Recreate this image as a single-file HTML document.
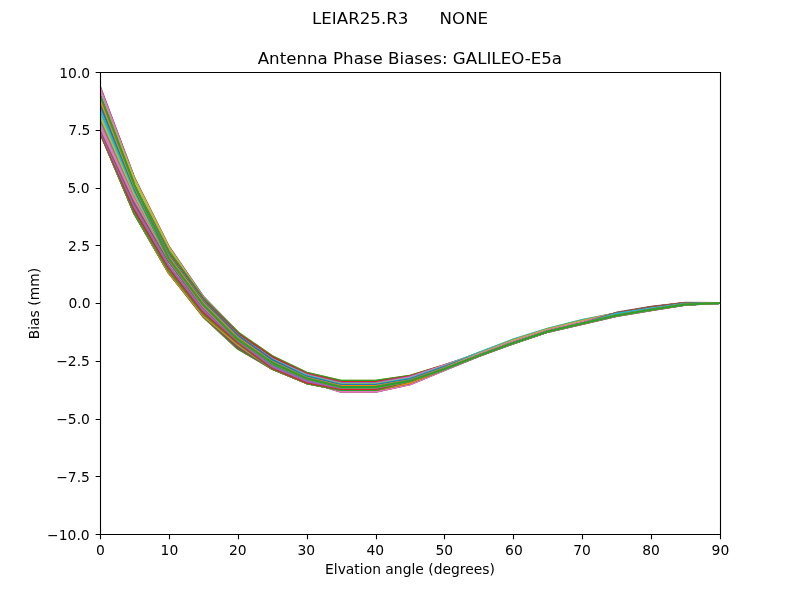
<!DOCTYPE html>
<html lang="en"><head><meta charset="utf-8"><title>LEIAR25.R3 NONE - Antenna Phase Biases: GALILEO-E5a</title>
<style>html,body{margin:0;padding:0;background:#fff;overflow:hidden}svg{display:block;will-change:transform}text{font-family:"DejaVu Sans","Liberation Sans",sans-serif;fill:#000}.t{font-size:13.889px}.h{font-size:16.667px}.ln{fill:none;stroke-width:2.0833;stroke-linejoin:round;stroke-linecap:square}.hd{stroke-width:1}</style></head><body>
<svg width="800" height="600" viewBox="0 0 800 600">
<rect width="800" height="600" fill="#fff"/>
<defs><clipPath id="c"><rect x="100.0" y="72.0" width="620.0" height="462.0"/></clipPath></defs>
<g clip-path="url(#c)">
<polyline class="ln hd" stroke="#1f77b4" points="97.00,78.59 100.00,86.55 134.44,178.03 168.89,246.64 203.33,296.76 237.78,332.34 272.22,361.21 306.67,381.11 341.11,391.70 375.56,391.70 410.00,384.31 444.44,369.99 478.89,356.13 513.33,343.43 547.78,331.88 582.22,324.02 616.67,315.94 651.11,310.16 685.56,304.62 720.00,303.00 723.00,303.00"/>
<polyline class="ln hd" stroke="#ff7f0e" points="97.00,78.59 100.00,86.55 134.44,178.03 168.89,246.64 203.33,296.76 237.78,332.34 272.22,361.21 306.67,381.11 341.11,391.70 375.56,391.70 410.00,384.31 444.44,369.99 478.89,356.13 513.33,343.43 547.78,331.88 582.22,324.02 616.67,315.94 651.11,310.16 685.56,304.62 720.00,303.00 723.00,303.00"/>
<polyline class="ln hd" stroke="#2ca02c" points="97.00,78.59 100.00,86.55 134.44,178.03 168.89,246.64 203.33,296.76 237.78,332.34 272.22,361.21 306.67,381.11 341.11,391.70 375.56,391.70 410.00,384.31 444.44,369.99 478.89,356.13 513.33,343.43 547.78,331.88 582.22,324.02 616.67,315.94 651.11,310.16 685.56,304.62 720.00,303.00 723.00,303.00"/>
<polyline class="ln hd" stroke="#d62728" points="97.00,78.59 100.00,86.55 134.44,178.03 168.89,246.64 203.33,296.76 237.78,332.34 272.22,361.21 306.67,381.11 341.11,391.70 375.56,391.70 410.00,384.31 444.44,369.99 478.89,356.13 513.33,343.43 547.78,331.88 582.22,324.02 616.67,315.94 651.11,310.16 685.56,304.62 720.00,303.00 723.00,303.00"/>
<polyline class="ln" stroke="#9467bd" points="97.00,78.59 100.00,86.55 134.44,178.03 168.89,246.64 203.33,296.76 237.78,332.34 272.22,361.21 306.67,381.11 341.11,391.70 375.56,391.70 410.00,384.31 444.44,369.99 478.89,356.13 513.33,343.43 547.78,331.88 582.22,324.02 616.67,315.94 651.11,310.16 685.56,304.62 720.00,303.00 723.00,303.00"/>
<polyline class="ln" stroke="#8c564b" points="97.00,79.34 100.00,87.30 134.44,178.68 168.89,247.14 203.33,297.16 237.78,332.34 272.22,361.21 306.67,381.11 341.11,391.70 375.56,391.70 410.00,384.31 444.44,369.99 478.89,356.13 513.33,343.43 547.78,331.88 582.22,324.02 616.67,315.94 651.11,310.16 685.56,304.62 720.00,303.00 723.00,303.00"/>
<polyline class="ln" stroke="#e377c2" points="97.00,80.10 100.00,88.05 134.44,179.33 168.89,247.64 203.33,297.56 237.78,332.34 272.22,361.21 306.67,381.11 341.11,391.70 375.56,391.70 410.00,384.31 444.44,369.99 478.89,356.13 513.33,343.43 547.78,331.88 582.22,324.02 616.67,315.94 651.11,310.16 685.56,304.62 720.00,303.00 723.00,303.00"/>
<polyline class="ln hd" stroke="#7f7f7f" points="97.00,88.36 100.00,95.65 134.44,179.45 168.89,248.08 203.33,298.25 237.78,332.34 272.22,356.13 306.67,372.76 341.11,380.85 375.56,380.85 410.00,375.76 444.44,365.14 478.89,354.05 513.33,340.48 547.78,329.45 582.22,321.08 616.67,313.16 651.11,307.39 685.56,303.14 720.00,303.00 723.00,303.00"/>
<polyline class="ln" stroke="#bcbd22" points="97.00,88.36 100.00,95.65 134.44,179.45 168.89,248.08 203.33,298.25 237.78,332.34 272.22,356.13 306.67,372.76 341.11,380.85 375.56,380.85 410.00,375.76 444.44,365.14 478.89,354.05 513.33,340.48 547.78,329.45 582.22,321.08 616.67,313.16 651.11,307.39 685.56,303.14 720.00,303.00 723.00,303.00"/>
<polyline class="ln hd" stroke="#17becf" points="97.00,87.86 100.00,95.65 134.44,185.14 168.89,251.38 203.33,298.25 237.78,332.34 272.22,356.13 306.67,372.76 341.11,380.85 375.56,380.85 410.00,375.76 444.44,365.14 478.89,354.05 513.33,340.48 547.78,329.45 582.22,321.08 616.67,313.16 651.11,307.39 685.56,303.14 720.00,303.00 723.00,303.00"/>
<polyline class="ln hd" stroke="#1f77b4" points="97.00,87.86 100.00,95.65 134.44,185.14 168.89,251.38 203.33,298.25 237.78,332.34 272.22,356.13 306.67,372.76 341.11,380.85 375.56,380.85 410.00,375.76 444.44,365.14 478.89,354.05 513.33,340.48 547.78,329.45 582.22,321.08 616.67,313.16 651.11,307.39 685.56,303.14 720.00,303.00 723.00,303.00"/>
<polyline class="ln hd" stroke="#ff7f0e" points="97.00,87.86 100.00,95.65 134.44,185.14 168.89,251.38 203.33,298.25 237.78,332.34 272.22,356.13 306.67,372.76 341.11,380.85 375.56,380.85 410.00,375.76 444.44,365.14 478.89,354.05 513.33,340.48 547.78,329.45 582.22,321.08 616.67,313.16 651.11,307.39 685.56,303.14 720.00,303.00 723.00,303.00"/>
<polyline class="ln" stroke="#2ca02c" points="97.00,87.86 100.00,95.65 134.44,185.14 168.89,251.38 203.33,298.25 237.78,332.34 272.22,356.13 306.67,372.76 341.11,380.85 375.56,380.85 410.00,375.76 444.44,365.14 478.89,354.05 513.33,340.48 547.78,329.45 582.22,321.08 616.67,313.16 651.11,307.39 685.56,303.14 720.00,303.00 723.00,303.00"/>
<polyline class="ln" stroke="#d62728" points="97.00,88.79 100.00,96.56 134.44,185.86 168.89,254.01 203.33,300.14 237.78,333.54 272.22,357.07 306.67,373.67 341.11,382.13 375.56,382.13 410.00,376.19 444.44,365.14 478.89,354.05 513.33,340.48 547.78,329.45 582.22,321.08 616.67,313.16 651.11,307.39 685.56,303.14 720.00,303.00 723.00,303.00"/>
<polyline class="ln" stroke="#9467bd" points="97.00,89.72 100.00,97.47 134.44,186.57 168.89,255.59 203.33,301.73 237.78,335.60 272.22,358.93 306.67,374.74 341.11,383.13 375.56,383.13 410.00,377.05 444.44,365.38 478.89,353.18 513.33,341.42 547.78,330.23 582.22,322.02 616.67,313.16 651.11,307.39 685.56,303.14 720.00,303.00 723.00,303.00"/>
<polyline class="ln hd" stroke="#8c564b" points="97.00,89.72 100.00,97.47 134.44,186.57 168.89,255.59 203.33,301.73 237.78,335.60 272.22,359.43 306.67,375.15 341.11,384.13 375.56,384.13 410.00,377.47 444.44,365.38 478.89,353.18 513.33,341.42 547.78,330.23 582.22,322.02 616.67,313.16 651.11,307.39 685.56,303.14 720.00,303.00 723.00,303.00"/>
<polyline class="ln" stroke="#e377c2" points="97.00,89.72 100.00,97.47 134.44,186.57 168.89,255.59 203.33,301.73 237.78,335.60 272.22,359.43 306.67,375.15 341.11,384.13 375.56,384.13 410.00,377.47 444.44,365.38 478.89,353.18 513.33,341.42 547.78,330.23 582.22,322.02 616.67,313.16 651.11,307.39 685.56,303.14 720.00,303.00 723.00,303.00"/>
<polyline class="ln hd" stroke="#7f7f7f" points="97.00,92.65 100.00,100.21 134.44,186.92 168.89,255.59 203.33,301.73 237.78,335.60 272.22,359.43 306.67,375.71 341.11,384.13 375.56,384.13 410.00,378.50 444.44,366.59 478.89,352.67 513.33,339.50 547.78,328.64 582.22,320.09 616.67,313.16 651.11,307.39 685.56,303.14 720.00,303.00 723.00,303.00"/>
<polyline class="ln" stroke="#bcbd22" points="97.00,92.65 100.00,100.21 134.44,186.92 168.89,255.59 203.33,301.73 237.78,335.60 272.22,359.43 306.67,375.71 341.11,384.13 375.56,384.13 410.00,378.50 444.44,366.59 478.89,352.67 513.33,339.50 547.78,328.64 582.22,320.09 616.67,313.16 651.11,307.39 685.56,303.14 720.00,303.00 723.00,303.00"/>
<polyline class="ln" stroke="#17becf" points="97.00,92.65 100.00,100.21 134.44,186.92 168.89,255.59 203.33,301.73 237.78,335.60 272.22,359.43 306.67,375.71 341.11,384.54 375.56,384.54 410.00,378.50 444.44,366.59 478.89,352.67 513.33,339.50 547.78,328.64 582.22,320.09 616.67,313.16 651.11,307.39 685.56,303.14 720.00,303.00 723.00,303.00"/>
<polyline class="ln" stroke="#1f77b4" points="97.00,92.65 100.00,100.21 134.44,186.92 168.89,255.59 203.33,301.73 237.78,335.60 272.22,359.94 306.67,376.61 341.11,385.11 375.56,385.11 410.00,379.18 444.44,367.08 478.89,354.05 513.33,340.48 547.78,329.45 582.22,321.08 616.67,313.16 651.11,307.39 685.56,303.14 720.00,303.00 723.00,303.00"/>
<polyline class="ln" stroke="#ff7f0e" points="97.00,95.03 100.00,102.48 134.44,187.99 168.89,257.17 203.33,303.12 237.78,337.72 272.22,361.78 306.67,377.75 341.11,386.11 375.56,386.11 410.00,380.21 444.44,368.05 478.89,354.05 513.33,340.48 547.78,329.45 582.22,321.08 616.67,313.16 651.11,307.39 685.56,303.14 720.00,303.00 723.00,303.00"/>
<polyline class="ln hd" stroke="#2ca02c" points="97.00,124.96 100.00,132.06 134.44,213.60 168.89,272.97 203.33,316.63 237.78,348.65 272.22,368.83 306.67,383.16 341.11,390.01 375.56,390.01 410.00,382.88 444.44,368.95 478.89,354.05 513.33,340.48 547.78,329.45 582.22,321.08 616.67,313.16 651.11,307.39 685.56,303.14 720.00,303.00 723.00,303.00"/>
<polyline class="ln hd" stroke="#d62728" points="97.00,124.96 100.00,132.06 134.44,213.60 168.89,272.97 203.33,316.63 237.78,348.65 272.22,368.83 306.67,383.16 341.11,390.01 375.56,390.01 410.00,382.88 444.44,368.95 478.89,354.05 513.33,340.48 547.78,329.45 582.22,321.08 616.67,313.16 651.11,307.39 685.56,303.14 720.00,303.00 723.00,303.00"/>
<polyline class="ln hd" stroke="#9467bd" points="97.00,124.96 100.00,132.06 134.44,213.60 168.89,272.97 203.33,316.63 237.78,348.65 272.22,368.83 306.67,383.16 341.11,390.01 375.56,390.01 410.00,382.88 444.44,368.95 478.89,354.05 513.33,340.48 547.78,329.45 582.22,321.08 616.67,313.16 651.11,307.39 685.56,303.14 720.00,303.00 723.00,303.00"/>
<polyline class="ln hd" stroke="#8c564b" points="97.00,124.96 100.00,132.06 134.44,213.60 168.89,272.97 203.33,316.63 237.78,348.65 272.22,368.83 306.67,383.16 341.11,390.01 375.56,390.01 410.00,382.88 444.44,368.95 478.89,354.05 513.33,340.48 547.78,329.45 582.22,321.08 616.67,313.16 651.11,307.39 685.56,303.14 720.00,303.00 723.00,303.00"/>
<polyline class="ln hd" stroke="#e377c2" points="97.00,124.96 100.00,132.06 134.44,213.60 168.89,272.97 203.33,316.63 237.78,348.65 272.22,368.83 306.67,383.16 341.11,390.01 375.56,390.01 410.00,382.88 444.44,368.95 478.89,354.05 513.33,340.48 547.78,329.45 582.22,321.08 616.67,313.16 651.11,307.39 685.56,303.14 720.00,303.00 723.00,303.00"/>
<polyline class="ln hd" stroke="#7f7f7f" points="97.00,124.96 100.00,132.06 134.44,213.60 168.89,272.97 203.33,316.63 237.78,348.65 272.22,368.83 306.67,383.16 341.11,390.01 375.56,390.01 410.00,382.88 444.44,368.95 478.89,354.05 513.33,340.48 547.78,329.45 582.22,321.08 616.67,313.16 651.11,307.39 685.56,303.14 720.00,303.00 723.00,303.00"/>
<polyline class="ln" stroke="#bcbd22" points="97.00,124.96 100.00,132.06 134.44,213.60 168.89,272.97 203.33,316.63 237.78,348.65 272.22,368.83 306.67,383.16 341.11,390.01 375.56,390.01 410.00,382.88 444.44,368.95 478.89,354.05 513.33,340.48 547.78,329.45 582.22,321.08 616.67,313.16 651.11,307.39 685.56,303.14 720.00,303.00 723.00,303.00"/>
<polyline class="ln hd" stroke="#17becf" points="97.00,124.96 100.00,132.06 134.44,213.60 168.89,272.97 203.33,316.63 237.78,348.65 272.22,368.83 306.67,383.16 341.11,390.01 375.56,390.01 410.00,382.88 444.44,368.95 478.89,354.57 513.33,341.42 547.78,330.23 582.22,322.02 616.67,313.16 651.11,307.39 685.56,303.14 720.00,303.00 723.00,303.00"/>
<polyline class="ln hd" stroke="#1f77b4" points="97.00,124.96 100.00,132.06 134.44,213.60 168.89,272.97 203.33,316.63 237.78,348.65 272.22,368.83 306.67,383.16 341.11,390.01 375.56,390.01 410.00,382.88 444.44,368.95 478.89,354.57 513.33,341.42 547.78,330.23 582.22,322.02 616.67,313.16 651.11,307.39 685.56,303.14 720.00,303.00 723.00,303.00"/>
<polyline class="ln hd" stroke="#ff7f0e" points="97.00,124.96 100.00,132.06 134.44,213.60 168.89,272.97 203.33,316.63 237.78,348.65 272.22,368.83 306.67,383.16 341.11,390.01 375.56,390.01 410.00,382.88 444.44,368.95 478.89,354.57 513.33,341.42 547.78,330.23 582.22,322.02 616.67,313.16 651.11,307.39 685.56,303.14 720.00,303.00 723.00,303.00"/>
<polyline class="ln hd" stroke="#2ca02c" points="97.00,124.96 100.00,132.06 134.44,213.60 168.89,272.97 203.33,316.63 237.78,348.65 272.22,368.83 306.67,383.16 341.11,390.01 375.56,390.01 410.00,382.88 444.44,368.95 478.89,354.57 513.33,341.42 547.78,330.23 582.22,322.02 616.67,313.16 651.11,307.39 685.56,303.14 720.00,303.00 723.00,303.00"/>
<polyline class="ln hd" stroke="#d62728" points="97.00,124.96 100.00,132.06 134.44,213.60 168.89,272.97 203.33,316.63 237.78,348.65 272.22,368.83 306.67,383.16 341.11,390.01 375.56,390.01 410.00,382.88 444.44,368.95 478.89,354.57 513.33,341.42 547.78,330.23 582.22,322.02 616.67,313.16 651.11,307.39 685.56,303.14 720.00,303.00 723.00,303.00"/>
<polyline class="ln hd" stroke="#9467bd" points="97.00,124.96 100.00,132.06 134.44,213.60 168.89,272.97 203.33,316.63 237.78,348.65 272.22,368.83 306.67,383.16 341.11,390.01 375.56,390.01 410.00,382.88 444.44,368.95 478.89,354.57 513.33,341.42 547.78,330.23 582.22,322.02 616.67,313.16 651.11,307.39 685.56,303.14 720.00,303.00 723.00,303.00"/>
<polyline class="ln hd" stroke="#8c564b" points="97.00,124.96 100.00,132.06 134.44,213.60 168.89,272.97 203.33,316.63 237.78,348.65 272.22,368.83 306.67,383.16 341.11,390.01 375.56,390.01 410.00,382.88 444.44,368.95 478.89,354.57 513.33,341.42 547.78,330.23 582.22,322.02 616.67,313.16 651.11,307.39 685.56,303.14 720.00,303.00 723.00,303.00"/>
<polyline class="ln" stroke="#e377c2" points="97.00,124.96 100.00,132.06 134.44,213.60 168.89,272.97 203.33,316.63 237.78,348.65 272.22,368.83 306.67,383.16 341.11,390.01 375.56,390.01 410.00,382.88 444.44,368.95 478.89,354.57 513.33,341.42 547.78,330.23 582.22,322.02 616.67,313.16 651.11,307.39 685.56,303.14 720.00,303.00 723.00,303.00"/>
<polyline class="ln hd" stroke="#7f7f7f" points="97.00,124.96 100.00,132.06 134.44,213.60 168.89,272.97 203.33,316.63 237.78,348.65 272.22,368.83 306.67,383.16 341.11,390.01 375.56,390.01 410.00,382.88 444.44,368.95 478.89,355.61 513.33,342.95 547.78,331.49 582.22,323.55 616.67,315.52 651.11,309.75 685.56,304.43 720.00,303.00 723.00,303.00"/>
<polyline class="ln hd" stroke="#bcbd22" points="97.00,124.96 100.00,132.06 134.44,213.60 168.89,272.97 203.33,316.63 237.78,348.65 272.22,368.83 306.67,383.16 341.11,390.01 375.56,390.01 410.00,382.88 444.44,368.95 478.89,355.61 513.33,342.95 547.78,331.49 582.22,323.55 616.67,315.52 651.11,309.75 685.56,304.43 720.00,303.00 723.00,303.00"/>
<polyline class="ln hd" stroke="#17becf" points="97.00,124.96 100.00,132.06 134.44,213.60 168.89,272.97 203.33,316.63 237.78,348.65 272.22,368.83 306.67,383.16 341.11,390.01 375.56,390.01 410.00,382.88 444.44,368.95 478.89,355.61 513.33,342.95 547.78,331.49 582.22,323.55 616.67,315.52 651.11,309.75 685.56,304.43 720.00,303.00 723.00,303.00"/>
<polyline class="ln hd" stroke="#1f77b4" points="97.00,124.96 100.00,132.06 134.44,213.60 168.89,272.97 203.33,316.63 237.78,348.65 272.22,368.83 306.67,383.16 341.11,390.01 375.56,390.01 410.00,382.88 444.44,368.95 478.89,355.61 513.33,342.95 547.78,331.49 582.22,323.55 616.67,315.52 651.11,309.75 685.56,304.43 720.00,303.00 723.00,303.00"/>
<polyline class="ln hd" stroke="#ff7f0e" points="97.00,124.96 100.00,132.06 134.44,213.60 168.89,272.97 203.33,316.63 237.78,348.65 272.22,368.83 306.67,383.16 341.11,390.01 375.56,390.01 410.00,382.88 444.44,368.95 478.89,355.61 513.33,342.95 547.78,331.49 582.22,323.55 616.67,315.52 651.11,309.75 685.56,304.43 720.00,303.00 723.00,303.00"/>
<polyline class="ln" stroke="#2ca02c" points="97.00,124.96 100.00,132.06 134.44,213.60 168.89,272.97 203.33,316.63 237.78,348.65 272.22,368.83 306.67,383.16 341.11,390.01 375.56,390.01 410.00,382.88 444.44,368.95 478.89,355.61 513.33,342.95 547.78,331.49 582.22,323.55 616.67,315.52 651.11,309.75 685.56,304.43 720.00,303.00 723.00,303.00"/>
<polyline class="ln" stroke="#d62728" points="97.00,124.96 100.00,132.06 134.44,213.60 168.89,272.97 203.33,315.64 237.78,347.18 272.22,368.83 306.67,383.16 341.11,390.01 375.56,390.01 410.00,382.88 444.44,368.95 478.89,355.61 513.33,342.95 547.78,331.49 582.22,323.55 616.67,315.52 651.11,309.75 685.56,304.43 720.00,303.00 723.00,303.00"/>
<polyline class="ln hd" stroke="#9467bd" points="97.00,122.42 100.00,128.87 134.44,202.93 168.89,261.38 203.33,307.69 237.78,338.94 272.22,364.39 306.67,379.34 341.11,387.58 375.56,387.58 410.00,380.89 444.44,368.95 478.89,355.61 513.33,342.95 547.78,331.49 582.22,323.55 616.67,312.64 651.11,306.70 685.56,302.77 720.00,303.00 723.00,303.00"/>
<polyline class="ln" stroke="#8c564b" points="97.00,122.42 100.00,128.87 134.44,202.93 168.89,261.38 203.33,307.69 237.78,338.94 272.22,364.39 306.67,379.34 341.11,387.58 375.56,387.58 410.00,380.89 444.44,368.95 478.89,355.61 513.33,342.95 547.78,331.49 582.22,323.55 616.67,312.64 651.11,306.70 685.56,302.77 720.00,303.00 723.00,303.00"/>
<polyline class="ln hd" stroke="#e377c2" points="97.00,122.42 100.00,128.87 134.44,202.93 168.89,261.38 203.33,307.69 237.78,338.94 272.22,364.39 306.67,379.34 341.11,387.58 375.56,387.58 410.00,380.89 444.44,368.95 478.89,355.61 513.33,342.95 547.78,331.49 582.22,323.55 616.67,313.86 651.11,308.43 685.56,303.69 720.00,303.00 723.00,303.00"/>
<polyline class="ln hd" stroke="#7f7f7f" points="97.00,122.42 100.00,128.87 134.44,202.93 168.89,261.38 203.33,307.69 237.78,338.94 272.22,364.39 306.67,379.34 341.11,387.58 375.56,387.58 410.00,380.89 444.44,368.95 478.89,355.61 513.33,342.95 547.78,331.49 582.22,323.55 616.67,313.86 651.11,308.43 685.56,303.69 720.00,303.00 723.00,303.00"/>
<polyline class="ln hd" stroke="#bcbd22" points="97.00,122.42 100.00,128.87 134.44,202.93 168.89,261.38 203.33,307.69 237.78,338.94 272.22,364.39 306.67,379.34 341.11,387.58 375.56,387.58 410.00,380.89 444.44,368.95 478.89,355.61 513.33,342.95 547.78,331.49 582.22,323.55 616.67,313.86 651.11,308.43 685.56,303.69 720.00,303.00 723.00,303.00"/>
<polyline class="ln" stroke="#17becf" points="97.00,122.42 100.00,128.87 134.44,202.93 168.89,261.38 203.33,307.69 237.78,338.94 272.22,364.39 306.67,379.34 341.11,387.58 375.56,387.58 410.00,380.89 444.44,368.95 478.89,355.61 513.33,342.95 547.78,331.49 582.22,323.55 616.67,313.86 651.11,308.43 685.56,303.69 720.00,303.00 723.00,303.00"/>
<polyline class="ln hd" stroke="#1f77b4" points="97.00,122.42 100.00,128.87 134.44,202.93 168.89,261.38 203.33,307.69 237.78,338.94 272.22,364.39 306.67,379.34 341.11,387.58 375.56,387.58 410.00,380.89 444.44,368.95 478.89,355.61 513.33,342.95 547.78,331.49 582.22,323.55 616.67,315.52 651.11,309.75 685.56,304.43 720.00,303.00 723.00,303.00"/>
<polyline class="ln hd" stroke="#ff7f0e" points="97.00,122.42 100.00,128.87 134.44,202.93 168.89,261.38 203.33,307.69 237.78,338.94 272.22,364.39 306.67,379.34 341.11,387.58 375.56,387.58 410.00,380.89 444.44,368.95 478.89,355.61 513.33,342.95 547.78,331.49 582.22,323.55 616.67,315.52 651.11,309.75 685.56,304.43 720.00,303.00 723.00,303.00"/>
<polyline class="ln" stroke="#2ca02c" points="97.00,122.42 100.00,128.87 134.44,202.93 168.89,261.38 203.33,307.69 237.78,338.94 272.22,364.39 306.67,379.34 341.11,387.58 375.56,387.58 410.00,380.89 444.44,368.95 478.89,355.61 513.33,342.95 547.78,331.49 582.22,323.55 616.67,315.52 651.11,309.75 685.56,304.43 720.00,303.00 723.00,303.00"/>
<polyline class="ln hd" stroke="#d62728" points="97.00,116.71 100.00,123.19 134.44,197.59 168.89,259.54 203.33,306.70 237.78,339.64 272.22,362.74 306.67,378.44 341.11,387.25 375.56,387.25 410.00,380.89 444.44,368.95 478.89,355.61 513.33,342.95 547.78,331.49 582.22,323.55 616.67,315.52 651.11,309.75 685.56,304.43 720.00,303.00 723.00,303.00"/>
<polyline class="ln hd" stroke="#9467bd" points="97.00,116.71 100.00,123.19 134.44,197.59 168.89,259.54 203.33,306.70 237.78,339.64 272.22,362.74 306.67,378.44 341.11,387.25 375.56,387.25 410.00,380.89 444.44,368.95 478.89,355.61 513.33,342.95 547.78,331.49 582.22,323.55 616.67,315.52 651.11,309.75 685.56,304.43 720.00,303.00 723.00,303.00"/>
<polyline class="ln hd" stroke="#8c564b" points="97.00,116.71 100.00,123.19 134.44,197.59 168.89,259.54 203.33,306.70 237.78,339.64 272.22,362.74 306.67,378.44 341.11,387.25 375.56,387.25 410.00,380.89 444.44,368.95 478.89,355.61 513.33,342.95 547.78,331.49 582.22,323.55 616.67,315.52 651.11,309.75 685.56,304.43 720.00,303.00 723.00,303.00"/>
<polyline class="ln" stroke="#e377c2" points="97.00,116.71 100.00,123.19 134.44,197.59 168.89,259.54 203.33,306.70 237.78,339.64 272.22,362.74 306.67,378.44 341.11,387.25 375.56,387.25 410.00,380.89 444.44,368.95 478.89,355.61 513.33,342.95 547.78,331.49 582.22,323.55 616.67,315.52 651.11,309.75 685.56,304.43 720.00,303.00 723.00,303.00"/>
<polyline class="ln hd" stroke="#7f7f7f" points="97.00,124.96 100.00,132.06 134.44,213.60 168.89,272.97 203.33,315.64 237.78,345.95 272.22,368.83 306.67,383.16 341.11,390.01 375.56,390.01 410.00,382.88 444.44,368.95 478.89,355.61 513.33,342.95 547.78,331.49 582.22,323.55 616.67,315.52 651.11,309.75 685.56,304.43 720.00,303.00 723.00,303.00"/>
<polyline class="ln hd" stroke="#bcbd22" points="97.00,124.96 100.00,132.06 134.44,213.60 168.89,272.97 203.33,315.64 237.78,345.95 272.22,368.83 306.67,383.16 341.11,390.01 375.56,390.01 410.00,382.88 444.44,368.95 478.89,355.61 513.33,342.95 547.78,331.49 582.22,323.55 616.67,315.52 651.11,309.75 685.56,304.43 720.00,303.00 723.00,303.00"/>
<polyline class="ln hd" stroke="#17becf" points="97.00,124.96 100.00,132.06 134.44,213.60 168.89,272.97 203.33,315.64 237.78,345.95 272.22,368.83 306.67,383.16 341.11,390.01 375.56,390.01 410.00,382.88 444.44,368.95 478.89,355.61 513.33,342.95 547.78,331.49 582.22,323.55 616.67,315.52 651.11,309.75 685.56,304.43 720.00,303.00 723.00,303.00"/>
<polyline class="ln" stroke="#1f77b4" points="97.00,124.96 100.00,132.06 134.44,213.60 168.89,272.97 203.33,315.64 237.78,345.95 272.22,368.83 306.67,383.16 341.11,390.01 375.56,390.01 410.00,382.88 444.44,368.95 478.89,355.61 513.33,342.95 547.78,331.49 582.22,323.55 616.67,315.52 651.11,309.75 685.56,304.43 720.00,303.00 723.00,303.00"/>
<polyline class="ln" stroke="#ff7f0e" points="97.00,124.96 100.00,132.06 134.44,213.60 168.89,272.97 203.33,315.64 237.78,344.73 272.22,368.83 306.67,383.16 341.11,390.01 375.56,390.01 410.00,382.88 444.44,368.95 478.89,355.61 513.33,342.95 547.78,331.49 582.22,323.55 616.67,315.52 651.11,309.75 685.56,304.43 720.00,303.00 723.00,303.00"/>
<polyline class="ln" stroke="#2ca02c" points="97.00,124.96 100.00,132.06 134.44,213.60 168.89,271.13 203.33,314.17 237.78,343.26 272.22,368.83 306.67,383.16 341.11,390.01 375.56,390.01 410.00,381.24 444.44,368.95 478.89,355.61 513.33,342.95 547.78,331.49 582.22,323.55 616.67,315.52 651.11,309.75 685.56,304.43 720.00,303.00 723.00,303.00"/>
<polyline class="ln" stroke="#d62728" points="97.00,124.77 100.00,131.60 134.44,210.05 168.89,268.23 203.33,312.26 237.78,342.12 272.22,367.89 306.67,382.47 341.11,389.02 375.56,389.02 410.00,381.06 444.44,368.95 478.89,355.61 513.33,342.95 547.78,331.49 582.22,323.55 616.67,315.52 651.11,309.75 685.56,304.43 720.00,303.00 723.00,303.00"/>
<polyline class="ln" stroke="#9467bd" points="97.00,124.06 100.00,130.69 134.44,206.84 168.89,265.73 203.33,310.27 237.78,340.82 272.22,366.48 306.67,381.11 341.11,388.02 375.56,388.02 410.00,380.89 444.44,368.95 478.89,355.61 513.33,342.95 547.78,331.49 582.22,323.55 616.67,315.52 651.11,309.75 685.56,304.43 720.00,303.00 723.00,303.00"/>
<polyline class="ln" stroke="#8c564b" points="97.00,122.42 100.00,128.87 134.44,202.93 168.89,261.38 203.33,307.69 237.78,339.64 272.22,362.74 306.67,378.44 341.11,387.11 375.56,387.11 410.00,380.89 444.44,368.95 478.89,355.61 513.33,342.95 547.78,331.49 582.22,323.55 616.67,315.52 651.11,309.75 685.56,304.43 720.00,303.00 723.00,303.00"/>
<polyline class="ln" stroke="#e377c2" points="97.00,120.23 100.00,126.60 134.44,199.73 168.89,259.54 203.33,306.70 237.78,339.64 272.22,362.74 306.67,378.44 341.11,387.11 375.56,387.11 410.00,380.89 444.44,368.95 478.89,355.61 513.33,342.95 547.78,331.49 582.22,323.55 616.67,315.52 651.11,309.75 685.56,304.43 720.00,303.00 723.00,303.00"/>
<polyline class="ln" stroke="#7f7f7f" points="97.00,113.18 100.00,119.77 134.44,195.46 168.89,259.41 203.33,305.11 237.78,339.64 272.22,362.74 306.67,378.44 341.11,387.11 375.56,387.11 410.00,380.89 444.44,368.95 478.89,355.61 513.33,342.95 547.78,331.49 582.22,323.55 616.67,315.52 651.11,309.75 685.56,304.43 720.00,303.00 723.00,303.00"/>
<polyline class="ln" stroke="#bcbd22" points="97.00,108.34 100.00,115.22 134.44,194.25 168.89,259.28 203.33,305.11 237.78,339.64 272.22,362.74 306.67,378.44 341.11,387.11 375.56,387.11 410.00,380.89 444.44,368.95 478.89,355.61 513.33,342.95 547.78,331.49 582.22,323.55 616.67,315.52 651.11,309.75 685.56,304.43 720.00,303.00 723.00,303.00"/>
<polyline class="ln" stroke="#17becf" points="97.00,103.17 100.00,110.22 134.44,191.08 168.89,259.14 203.33,305.11 237.78,339.64 272.22,362.74 306.67,378.44 341.11,387.11 375.56,387.11 410.00,380.89 444.44,368.95 478.89,355.61 513.33,342.95 547.78,331.49 582.22,323.55 616.67,315.52 651.11,309.75 685.56,304.43 720.00,303.00 723.00,303.00"/>
<polyline class="ln" stroke="#1f77b4" points="97.00,97.44 100.00,104.76 134.44,188.70 168.89,259.01 203.33,305.11 237.78,339.64 272.22,362.74 306.67,378.44 341.11,387.11 375.56,387.11 410.00,380.89 444.44,368.95 478.89,355.61 513.33,342.95 547.78,331.49 582.22,323.55 616.67,315.52 651.11,309.75 685.56,304.43 720.00,303.00 723.00,303.00"/>
<polyline class="ln" stroke="#ff7f0e" points="97.00,91.20 100.00,98.84 134.44,186.57 168.89,258.88 203.33,305.11 237.78,339.64 272.22,362.74 306.67,378.44 341.11,387.11 375.56,387.11 410.00,380.89 444.44,368.95 478.89,355.61 513.33,342.95 547.78,331.49 582.22,323.55 616.67,315.52 651.11,309.75 685.56,304.43 720.00,303.00 723.00,303.00"/>
<polyline class="ln" stroke="#2ca02c" points="97.00,86.89 100.00,94.74 134.44,184.97 168.89,258.75 203.33,305.11 237.78,339.64 272.22,362.74 306.67,378.44 341.11,387.11 375.56,387.11 410.00,380.89 444.44,368.95 478.89,355.61 513.33,342.95 547.78,331.49 582.22,323.55 616.67,315.52 651.11,309.75 685.56,304.43 720.00,303.00 723.00,303.00"/>
</g>
<g stroke="#000" stroke-width="1.1111" fill="none">
<path d="M100.5 72.5H720.5V534.5H100.5Z" stroke-linejoin="miter"/>
<path d="M100.5 534.5v4.861M169.5 534.5v4.861M238.5 534.5v4.861M307.5 534.5v4.861M376.5 534.5v4.861M444.5 534.5v4.861M513.5 534.5v4.861M582.5 534.5v4.861M651.5 534.5v4.861M720.5 534.5v4.861M100.5 72.5h-4.861M100.5 130.5h-4.861M100.5 188.5h-4.861M100.5 245.5h-4.861M100.5 303.5h-4.861M100.5 361.5h-4.861M100.5 419.5h-4.861M100.5 476.5h-4.861M100.5 534.5h-4.861"/>
</g>
<text class="t" x="100.52" y="555" text-anchor="middle">0</text>
<text class="t" x="169.41" y="555" text-anchor="middle">10</text>
<text class="t" x="237.80" y="555" text-anchor="middle">20</text>
<text class="t" x="306.39" y="555" text-anchor="middle">30</text>
<text class="t" x="375.28" y="555" text-anchor="middle">40</text>
<text class="t" x="444.26" y="555" text-anchor="middle">50</text>
<text class="t" x="513.95" y="555" text-anchor="middle">60</text>
<text class="t" x="582.09" y="555" text-anchor="middle">70</text>
<text class="t" x="650.98" y="555" text-anchor="middle">80</text>
<text class="t" x="720.42" y="555" text-anchor="middle">90</text>
<text class="t" x="90.15" y="78" text-anchor="end">10.0</text>
<text class="t" x="90.40" y="135" text-anchor="end">7.5</text>
<text class="t" x="89.55" y="193" text-anchor="end">5.0</text>
<text class="t" x="90.10" y="251" text-anchor="end">2.5</text>
<text class="t" x="90.55" y="308" text-anchor="end">0.0</text>
<text class="t" x="89.95" y="366" text-anchor="end">−2.5</text>
<text class="t" x="89.90" y="424" text-anchor="end">−5.0</text>
<text class="t" x="89.90" y="482" text-anchor="end">−7.5</text>
<text class="t" x="89.65" y="540" text-anchor="end">−10.0</text>
<text class="t" x="410.0" y="574" text-anchor="middle">Elvation angle (degrees)</text>
<text class="t" transform="translate(38.5,303.6) rotate(-90)" text-anchor="middle">Bias (mm)</text>
<text class="h" x="409.9" y="64" text-anchor="middle">Antenna Phase Biases: GALILEO-E5a</text>
<text class="h" x="400.1" y="24" text-anchor="middle" style="word-spacing:-0.1px;white-space:pre" xml:space="preserve">LEIAR25.R3      NONE</text>
</svg></body></html>
